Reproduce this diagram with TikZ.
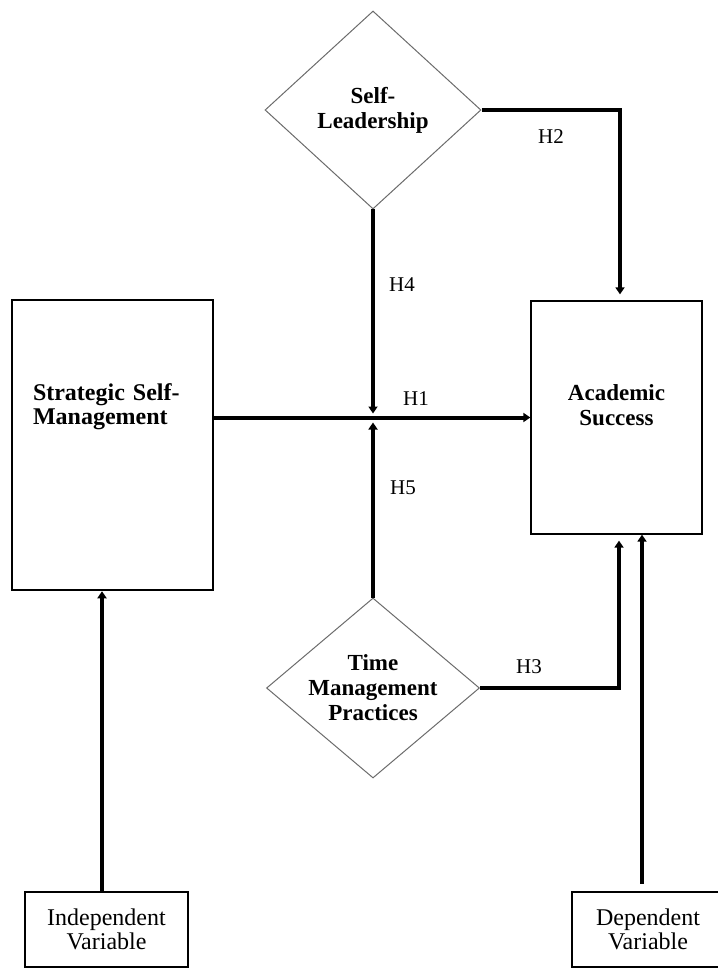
\documentclass[tikz,border=0pt]{standalone}
\usepackage{fontspec}
\setmainfont{Liberation Serif}
\usetikzlibrary{shapes.geometric,arrows.meta}

\begin{document}
\begin{tikzpicture}[x=1pt, y=-1pt]
        % --- Définition des styles ---
        \tikzset{
            var_box/.style={draw, rectangle, inner sep=0pt,
                font=\bfseries\fontsize{23}{25}\selectfont},
            mod_node/.style={diamond, draw=gray!85!black, line width=1pt, fill=white,
                inner sep=0pt, align=center, font=\bfseries\fontsize{23}{25}\selectfont},
            role_box/.style={draw, rectangle, line width=2.3pt, inner sep=0pt, align=center,
                minimum height=75pt, font=\fontsize{24}{24}\selectfont},
            hyp_arrow/.style={line width=4pt, -{Triangle[length=7pt,width=9pt]}},
            hyp_label/.style={inner sep=0pt, font=\fontsize{21}{24}\selectfont}
        }

        % Cadre de la figure
        \useasboundingbox (0,0) rectangle (717,968);

        % =====================================================================
        % VARIABLES PRINCIPALES
        % =====================================================================
        \node[var_box, line width=2.5pt, minimum width=201pt, minimum height=290pt,
              font=\bfseries\fontsize{24}{24}\selectfont,
              text width=159pt, align=left, text height=16pt, text depth=106pt] (ssm) at (112.5,445)
            {Strategic Self-\\Management};
        \node[var_box, line width=1.3pt, minimum width=171pt, minimum height=233pt,
              align=center, text height=16pt, text depth=-2pt] (as) at (616.5,417.5)
            {Academic\\Success};

        % Modérateurs (losanges)
        \node[mod_node, aspect=1.09, minimum width=216pt, minimum height=198pt] (sl) at (373,110)
            {Self-\\Leadership};
        \node[mod_node, aspect=1.18, minimum width=213pt, minimum height=180pt] (tm) at (373,688)
            {Time\\Management\\Practices};

        % Légendes du bas
        \node[role_box, minimum width=163pt] (iv) at (106.5,929.5) {Independent\\Variable};
        \node[role_box, minimum width=152pt] (dv) at (648,929.5) {Dependent\\Variable};

        % =====================================================================
        % HYPOTHÈSES (flèches)
        % =====================================================================
        \draw[hyp_arrow] (ssm.east |- as.west) -- (as.west);
        \draw[hyp_arrow] (sl.east) -| ([xshift=3.5pt,yshift=6pt]as.north);
        \draw[hyp_arrow] (tm.east) -| ([xshift=2.5pt,yshift=-6pt]as.south);
        \draw[hyp_arrow] (sl.south) -- ([yshift=4pt]sl.south |- as.west);
        \draw[hyp_arrow] (tm.north) -- ([yshift=-5pt]tm.north |- as.west);

        % Liens vers les légendes
        \draw[hyp_arrow] ([xshift=-4.5pt]iv.north) -- ([xshift=-4.5pt]iv.north |- ssm.south);
        \draw[hyp_arrow] ([xshift=-6pt,yshift=7pt]dv.north) -- ([xshift=-6pt]dv.north |- as.south);

        % Étiquettes
        \node[hyp_label] (h1) at (416,399) {H1};
        \node[hyp_label] (h2) at (551,137) {H2};
        \node[hyp_label] (h3) at (529,667) {H3};
        \node[hyp_label] (h4) at (402,285) {H4};
        \node[hyp_label] (h5) at (403,488) {H5};

\end{tikzpicture}
\end{document}
